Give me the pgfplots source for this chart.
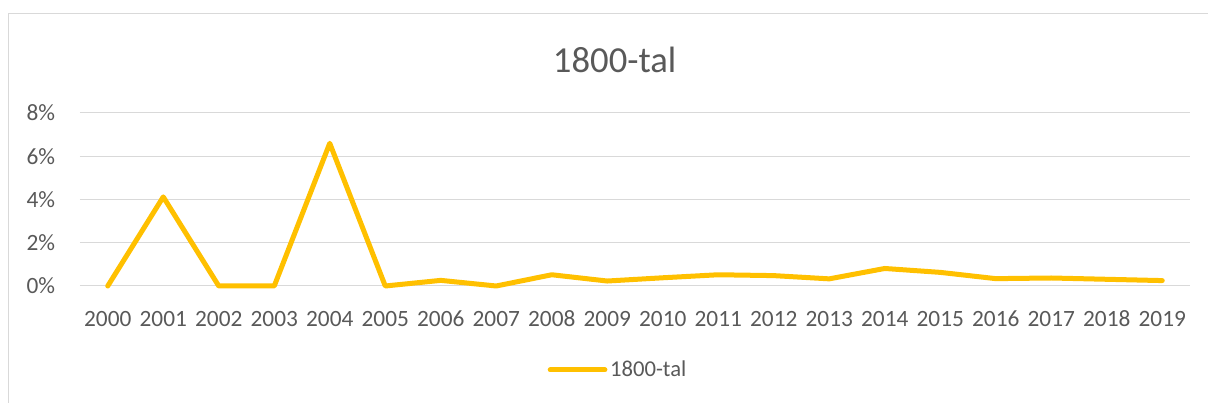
\documentclass[border=0pt]{standalone}
\usepackage{fontspec}
\setmainfont{Carlito}
\usepackage{pgfplots}
\pgfplotsset{compat=1.18}
\definecolor{line1800}{HTML}{FFC000}
\definecolor{txtgray}{HTML}{595959}
\definecolor{gridgray}{HTML}{D9D9D9}

\begin{document}
\begin{tikzpicture}
\useasboundingbox (0,0) rectangle (906pt,302.25pt);
% outer chart frame
\draw[gridgray, line width=0.75pt] (6pt,0) -- (6pt,291.75pt) -- (906pt,291.75pt);
\node[txtgray, font=\fontsize{27.5}{30}\selectfont] at (461pt,257pt) {1800-tal};
\begin{axis}[
  at={(60pt,87.75pt)}, anchor=south west,
  scale only axis,
  width=832.5pt, height=129.75pt,
  xmin=-0.5, xmax=19.5,
  ymin=0, ymax=8,
  clip=false,
  axis line style={draw=none},
  major tick length=0pt,
  xtick={0,...,19},
  xticklabels={2000,2001,2002,2003,2004,2005,2006,2007,2008,2009,2010,2011,2012,2013,2014,2015,2016,2017,2018,2019},
  ytick={0,2,4,6,8},
  yticklabels={0\%,2\%,4\%,6\%,8\%},
  ymajorgrids,
  grid style={gridgray, line width=0.75pt},
  tick label style={txtgray, font=\fontsize{17.5}{19}\selectfont},
  yticklabel style={inner sep=0pt, xshift=-18.5pt},
  xticklabel style={inner sep=0pt, anchor=base, yshift=-30.5pt},
  legend style={at={(0.485,-0.4855)}, anchor=center, draw=none, fill=none,
    font=\fontsize{17}{18}\selectfont, text=txtgray, inner sep=0pt,
    /tikz/every even column/.append style={column sep=0pt}},
  legend cell align=left,
  legend image code/.code={\draw[#1] (0pt,0pt) -- (41pt,0pt);},
]
\addplot[line1800, line width=3.75pt, line join=round, line cap=round] coordinates {
  (0,0) (1,4.12) (2,0) (3,0) (4,6.6) (5,0) (6,0.26) (7,0)
  (8,0.52) (9,0.23) (10,0.38) (11,0.52) (12,0.48) (13,0.33)
  (14,0.81) (15,0.63) (16,0.34) (17,0.37) (18,0.31) (19,0.25)
};
\addlegendentry{1800-tal}
\end{axis}
\end{tikzpicture}
\end{document}
